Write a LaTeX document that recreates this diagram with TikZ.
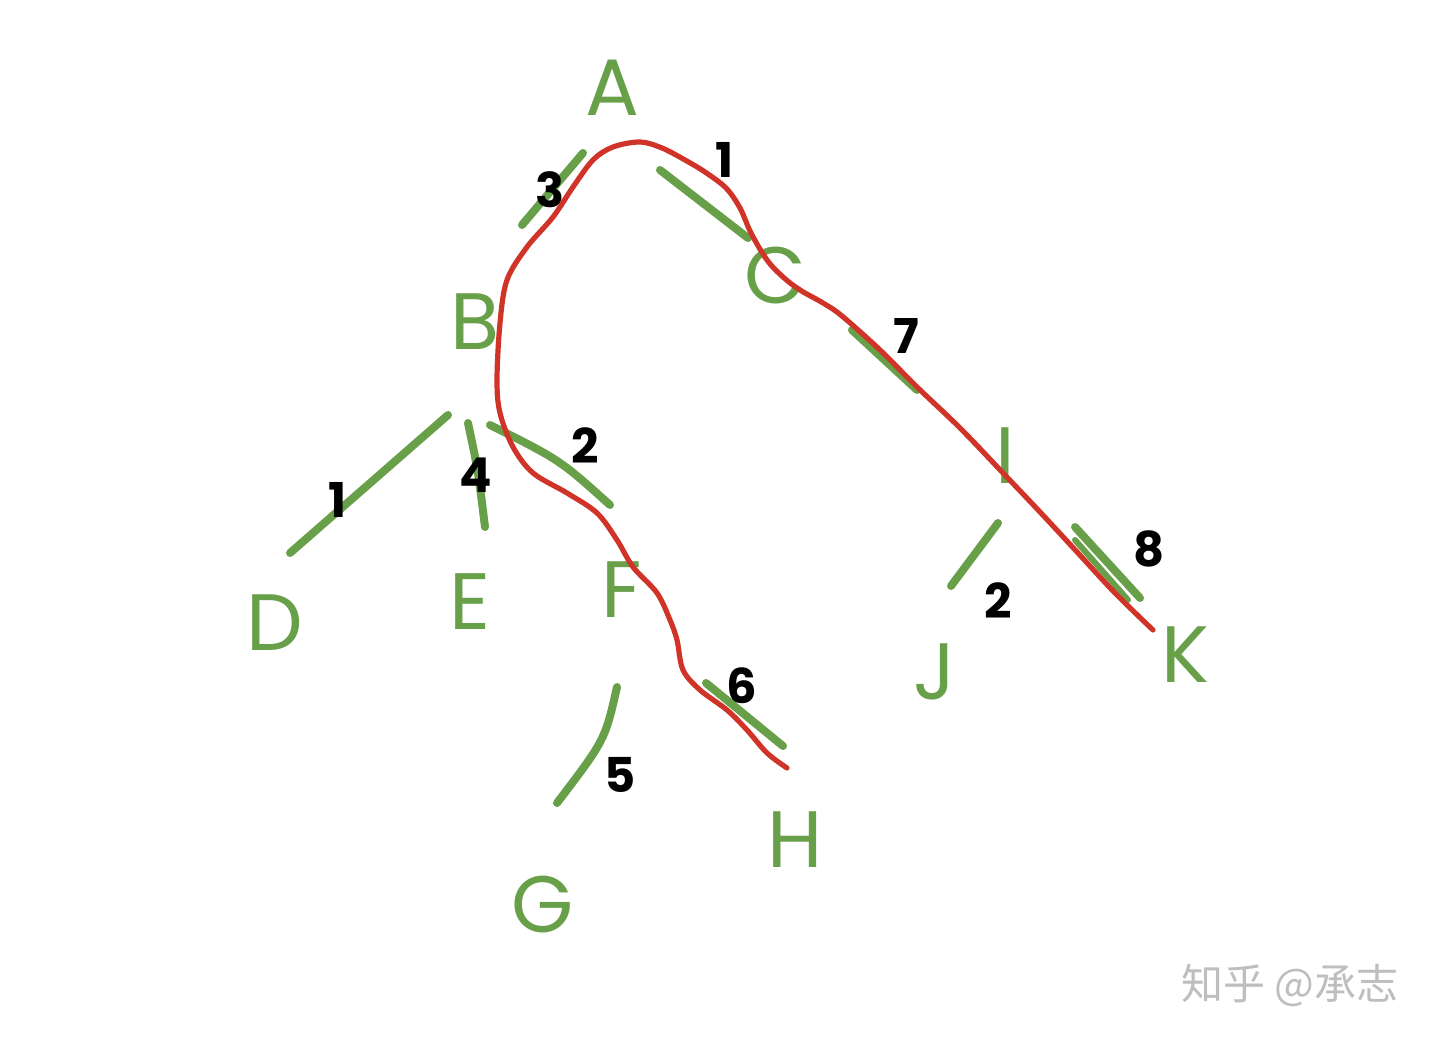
\documentclass[tikz,border=0pt]{standalone}
\usepackage{fontspec}
\setmainfont{Poppins}
\newfontfamily\cjk{Noto Sans CJK SC}
\begin{document}
\begin{tikzpicture}[x=0.5pt,y=-0.5pt,
  letter/.style={text=treegreen,font=\fontsize{40}{40}\selectfont,inner sep=0pt},
  weight/.style={text=black,font=\fontsize{24}{24}\selectfont\bfseries,inner sep=0pt},
  edge/.style={draw=treegreen,line width=4pt,line cap=round},
  route/.style={draw=routered,line width=2.6pt,line cap=round,line join=round}]
\definecolor{treegreen}{RGB}{104,160,74}
\definecolor{routered}{RGB}{208,52,40}
\fill[white] (0,0) rectangle (1440,1043);
\useasboundingbox (0,0) rectangle (1440,1043);
% letters
\node[letter] (A) at (612,88) {A};
\node[letter] (B) at (475,322) {B};
\node[letter] (C) at (775,275) {C};
\node[letter] (D) at (275,623) {D};
\node[letter] (E) at (470,602) {E};
\node[letter] (F) at (622,590) {F};
\node[letter] (G) at (543,905) {G};
\node[letter] (H) at (795,840) {H};
\node[letter] (I) at (1005,456) {I};
\node[letter] (J) at (935,672) {J};
\node[letter] (K) at (1185,655) {K};
% edge end points
\coordinate (ab1) at (583,153); \coordinate (ab2) at (522,225);
\coordinate (ac1) at (660,170); \coordinate (ac2) at (748,238);
\coordinate (bd1) at (448,415); \coordinate (bd2) at (290,553);
\coordinate (be1) at (468,423); \coordinate (be2) at (485,527);
\coordinate (bf1) at (490,425); \coordinate (bf2) at (610,505);
\coordinate (ci1) at (852,330); \coordinate (ci2) at (917,390);
\coordinate (fg1) at (617,687); \coordinate (fg2) at (557,803);
\coordinate (fh1) at (706,683); \coordinate (fh2) at (783,746);
\coordinate (ij1) at (998,523); \coordinate (ij2) at (951,586);
\coordinate (ik1) at (1075,527); \coordinate (ik2) at (1140,598);
\coordinate (ik3) at (1075,540); \coordinate (ik4) at (1128,600);
\draw[edge] (ab1) -- (ab2);
\draw[edge] (ac1) -- (ac2);
\draw[edge] (bd1) -- (bd2);
\draw[edge] (be1) .. controls (478,470) .. (be2);
\draw[edge] (bf1) .. controls (560,460) .. (bf2);
\draw[edge] (ci1) -- (ci2);
\draw[edge] (fg1) .. controls (605,740) .. (fg2);
\draw[edge] (fh1) -- (fh2);
\draw[edge] (ij1) -- (ij2);
\draw[edge] (ik1) -- (ik2);
\draw[edge,line width=3pt] (ik3) -- (ik4);
% weights
\node[weight] (w3) at (550,190) {3};
\node[weight] (w1a) at (725,160) {1};
\node[weight] (w7) at (906,336) {7};
\node[weight] (w1b) at (338,500) {1};
\node[weight] (w4) at (476,475) {4};
\node[weight] (w2a) at (585,446) {2};
\node[weight] (w2b) at (998,601) {2};
\node[weight] (w8) at (1149,549) {8};
\node[weight] (w6) at (742,686) {6};
\node[weight] (w5) at (620,775) {5};
% red traversal route
\draw[route] plot[smooth,tension=0.55] coordinates {
 (787,768) (767,753) (747,730) (727,710) (700,690) (683,670) (677,640)
 (670,620) (657,593) (633,567) (617,540) (597,513) (567,493) (533,473)
 (513,447) (500,413) (497,380) (500,323) (507,280) (527,247) (553,217)
 (573,187) (593,160) (613,147) (640,142) (662,148) (685,160) (705,172)
 (726,188) (740,208) (751,233) (767,260) (783,277) (800,290) (823,303)
 (842,316) (880,350) (917,387) (960,428) (1003,473) (1040,512)
 (1078,553) (1115,593) (1153,630)};
% watermark
\node[text={rgb,255:red,190;green,190;blue,190},font=\cjk\fontsize{21}{21}\selectfont,inner sep=0pt] (wm) at (1290,985) {知乎 @承志};
\end{tikzpicture}
\end{document}
